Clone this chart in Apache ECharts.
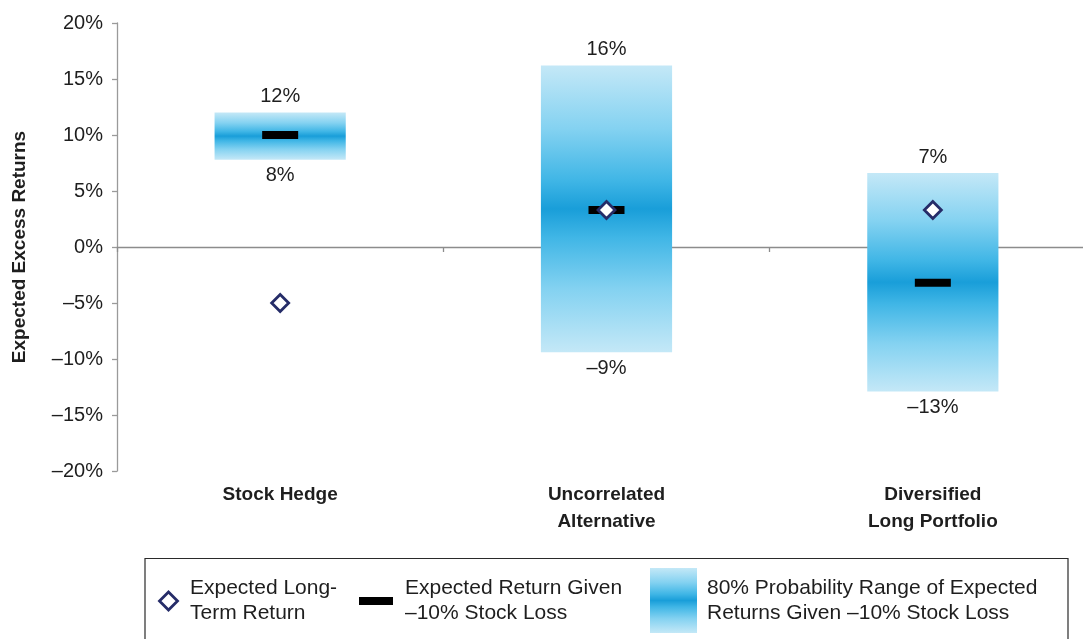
<!DOCTYPE html>
<html>
<head>
<meta charset="utf-8">
<script src="https://cdn.jsdelivr.net/npm/echarts@6/dist/echarts.min.js"></script>
<style>
  html, body { margin: 0; padding: 0; background: #ffffff; }
  #chart { width: 1083px; height: 639px; }
</style>
</head>
<body>
<div id="chart"></div>
<script>
// Strategy groups shown along the horizontal axis
const categories = ['Stock Hedge', 'Uncorrelated\nAlternative', 'Diversified\nLong Portfolio'];
// 80% probability range of expected returns given a -10% stock loss (percent)
const rangeLow = [7.8, -9.4, -12.9];
const rangeHigh = [12.0, 16.2, 6.6];
// Expected return given a -10% stock loss (percent)
const givenLoss = [10.0, 3.3, -3.2];
// Expected long-term return (percent)
const longTerm = [-5.0, 3.3, 3.3];
// Value axis ticks
const yTicks = { min: -20, max: 20, step: 5 };

const FONT = '"Liberation Sans", Arial, sans-serif';
const TEXT = '#1e1e1e';
const NAVY = '#252c68';

function pct(v) {
  const r = Math.round(v);
  return (r < 0 ? '\u2013' : '') + Math.abs(r) + '%';
}

function rangeGradient() {
  return new echarts.graphic.LinearGradient(0, 0, 0, 1, [
    { offset: 0.00, color: '#c4e8f7' },
    { offset: 0.22, color: '#84d2f1' },
    { offset: 0.40, color: '#40b6e6' },
    { offset: 0.50, color: '#199ed9' },
    { offset: 0.60, color: '#40b6e6' },
    { offset: 0.78, color: '#84d2f1' },
    { offset: 1.00, color: '#c4e8f7' }
  ]);
}

const rangeData = categories.map((c, i) => [i, rangeLow[i], rangeHigh[i]]);

const chart = echarts.init(document.getElementById('chart'), null, { renderer: 'canvas' });

chart.setOption({
  animation: false,
  backgroundColor: '#ffffff',
  textStyle: { fontFamily: FONT },
  grid: { left: 117, top: 23, width: 979, height: 448, outerBoundsMode: 'none', containLabel: false },
  xAxis: [
    {
      type: 'category',
      data: categories,
      position: 'bottom',
      axisLine: { show: false, onZero: false },
      axisTick: { show: false },
      axisLabel: {
        margin: 10,
        fontFamily: FONT,
        fontSize: 19,
        fontWeight: 'bold',
        color: TEXT,
        lineHeight: 27
      },
      splitLine: { show: false }
    },
    {
      type: 'category',
      data: categories,
      position: 'top',
      axisLine: { show: true, onZero: true, lineStyle: { color: '#8c8c8c', width: 1.3 } },
      axisTick: { show: true, inside: true, length: 5, lineStyle: { color: '#8c8c8c', width: 1.3 } },
      axisLabel: { show: false },
      splitLine: { show: false }
    }
  ],
  yAxis: {
    type: 'value',
    min: yTicks.min,
    max: yTicks.max,
    interval: yTicks.step,
    axisLine: { show: true, lineStyle: { color: '#9a9a9a', width: 1.3 } },
    axisTick: { show: true, length: 5, lineStyle: { color: '#9a9a9a', width: 1.3 } },
    axisLabel: {
      margin: 14,
      fontFamily: FONT,
      fontSize: 20,
      color: TEXT,
      formatter: v => pct(v)
    },
    splitLine: { show: false }
  },
  series: [
    {
      name: '80% Probability Range',
      type: 'custom',
      xAxisIndex: 0,
      data: rangeData,
      encode: { x: 0, y: [1, 2] },
      z: 1,
      renderItem: function (params, api) {
        const x = api.value(0);
        const lo = api.value(1);
        const hi = api.value(2);
        const pTop = api.coord([x, hi]);
        const pBot = api.coord([x, lo]);
        const w = api.size([1, 0])[0] * 0.402;
        return {
          type: 'group',
          children: [
            {
              type: 'rect',
              shape: { x: pTop[0] - w / 2, y: pTop[1], width: w, height: pBot[1] - pTop[1] },
              style: { fill: rangeGradient() }
            },
            {
              type: 'text',
              x: pTop[0],
              y: pTop[1] - 16,
              style: {
                text: pct(hi), fill: TEXT, font: '20px ' + FONT,
                align: 'center', verticalAlign: 'middle'
              }
            },
            {
              type: 'text',
              x: pBot[0],
              y: pBot[1] + 16,
              style: {
                text: pct(lo), fill: TEXT, font: '20px ' + FONT,
                align: 'center', verticalAlign: 'middle'
              }
            }
          ]
        };
      }
    },
    {
      name: 'Expected Return Given \u201310% Stock Loss',
      type: 'scatter',
      xAxisIndex: 0,
      data: givenLoss,
      symbol: 'rect',
      symbolSize: [36, 8],
      itemStyle: { color: '#000000', opacity: 1 },
      z: 3
    },
    {
      name: 'Expected Long-Term Return',
      type: 'scatter',
      xAxisIndex: 0,
      data: longTerm,
      symbol: 'diamond',
      symbolSize: [17, 17],
      itemStyle: { color: '#ffffff', borderColor: NAVY, borderWidth: 2.8, opacity: 1 },
      z: 4
    }
  ],
  graphic: [
    {
      type: 'text',
      x: 20,
      y: 247,
      rotation: Math.PI / 2,
      style: {
        text: 'Expected Excess Returns',
        fill: TEXT,
        font: 'bold 19px ' + FONT,
        align: 'center',
        verticalAlign: 'middle'
      }
    },
    // legend frame
    {
      type: 'rect',
      shape: { x: 145, y: 558.5, width: 923, height: 100 },
      style: { fill: 'none', stroke: '#2a2a2a', lineWidth: 1.2 },
      silent: true
    },
    // legend: long-term return diamond
    {
      type: 'polygon',
      shape: { points: [[168.5, 592], [177.5, 601], [168.5, 610], [159.5, 601]] },
      style: { fill: '#ffffff', stroke: NAVY, lineWidth: 2.8 }
    },
    {
      type: 'text',
      x: 190,
      y: 601,
      style: {
        text: 'Expected Long-\nTerm Return',
        fill: TEXT, font: '21px ' + FONT, lineHeight: 25,
        align: 'left', verticalAlign: 'middle'
      }
    },
    // legend: given-loss dash
    {
      type: 'rect',
      shape: { x: 359, y: 597, width: 34, height: 8 },
      style: { fill: '#000000' }
    },
    {
      type: 'text',
      x: 405,
      y: 601,
      style: {
        text: 'Expected Return Given\n\u201310% Stock Loss',
        fill: TEXT, font: '21px ' + FONT, lineHeight: 25,
        align: 'left', verticalAlign: 'middle'
      }
    },
    // legend: probability range swatch
    {
      type: 'rect',
      shape: { x: 650, y: 568, width: 47, height: 65 },
      style: { fill: rangeGradient() }
    },
    {
      type: 'text',
      x: 707,
      y: 601,
      style: {
        text: '80% Probability Range of Expected\nReturns Given \u201310% Stock Loss',
        fill: TEXT, font: '21px ' + FONT, lineHeight: 25,
        align: 'left', verticalAlign: 'middle'
      }
    }
  ]
});
</script>
</body>
</html>
